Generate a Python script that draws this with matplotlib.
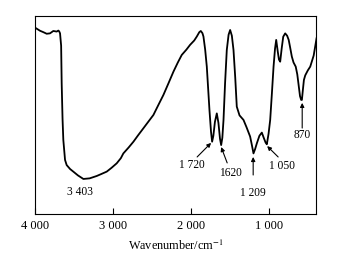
import numpy as np
import matplotlib.pyplot as plt

plt.rcParams['font.family'] = ['Liberation Serif', 'DejaVu Serif']
plt.rcParams['mathtext.fontset'] = 'stix'

# FTIR spectrum (wavenumber in cm-1, transmittance in %)
wavenumber = [4000, 3935, 3893, 3850, 3808, 3765, 3722, 3701, 3690, 3679,
              3665, 3658, 3647, 3637, 3615, 3594, 3550, 3509, 3450, 3380,
              3300, 3209, 3150, 3081, 3020, 2953, 2900, 2868, 2800, 2739,
              2680, 2611, 2550, 2483, 2420, 2355, 2290, 2226, 2170, 2120,
              2060, 2013, 1960, 1927, 1895, 1876, 1855, 1842, 1820, 1799,
              1765, 1745, 1731, 1715, 1695, 1671, 1650, 1630, 1615, 1600,
              1585, 1565, 1543, 1520, 1500, 1478, 1457, 1435, 1415, 1380,
              1329, 1290, 1244, 1220, 1201, 1180, 1158, 1125, 1094, 1070,
              1045, 1030, 1008, 987, 965, 944, 925, 910, 890, 875,
              859, 840, 820, 795, 770, 750, 731, 710, 688, 660,
              640, 624, 605, 590, 581, 570, 555, 538, 505, 474,
              430, 393]
transmittance = [94.1, 92.5, 91.8, 91.0, 91.2, 92.4, 92.1, 92.6, 92.2, 91.2,
                 85.0, 65.9, 48.0, 37.4, 27.3, 24.7, 22.7, 21.4, 19.5, 17.7,
                 18.0, 19.2, 20.2, 21.4, 23.3, 25.6, 28.2, 30.6, 33.6, 36.5,
                 39.7, 43.3, 46.5, 50.0, 55.0, 60.1, 66.0, 71.9, 76.5, 80.3,
                 83.0, 85.4, 87.6, 89.6, 91.8, 92.4, 91.3, 89.6, 83.0, 74.4,
                 52.5, 41.5, 36.5, 39.5, 46.5, 50.8, 46.0, 38.0, 34.8, 38.5,
                 47.5, 66.0, 82.8, 90.5, 92.9, 90.0, 82.8, 69.0, 54.2, 49.8,
                 47.5, 43.8, 39.1, 34.5, 30.6, 32.8, 35.7, 39.5, 41.1, 38.5,
                 36.0, 35.2, 40.5, 47.5, 61.0, 74.4, 83.5, 87.9, 82.0, 78.0,
                 76.9, 83.5, 89.5, 91.2, 90.0, 87.9, 84.0, 79.5, 76.5, 74.4,
                 70.5, 65.5, 59.5, 57.6, 57.6, 62.0, 67.7, 70.0, 72.5, 74.4,
                 80.0, 88.7]

peak_labels = ["3 403", "1 720", "1620", "1 209", "1 050", "870"]
label_x = [3423, 1987, 1500, 1205, 833, 577]
label_y = [11.1, 24.7, 20.7, 10.6, 24.2, 39.9]
arrow_tail = [None, (1923, 28.8), (1538, 25.8), (1205, 19.7), (885, 28.8), (577, 43.4)]
arrow_head = [None, (1744, 35.9), (1615, 33.8), (1205, 28.8), (1026, 34.3), (577, 56.1)]

xticks = [4000, 3000, 2000, 1000]
xtick_labels = ["4 000", "3 000", "2 000", "1 000"]

fig = plt.figure(figsize=(3.39, 2.61), dpi=100)
ax = fig.add_axes([0.1032, 0.180, 0.829, 0.759])

ax.plot(wavenumber, transmittance, color="black", lw=1.3)

for lab, x, y, tail, head in zip(peak_labels, label_x, label_y, arrow_tail, arrow_head):
    ax.text(x, y, lab, ha="center", va="center", fontsize=8.3)
    if tail is not None:
        ax.annotate("", xy=head, xytext=tail,
                    arrowprops=dict(arrowstyle="-|>", color="black", lw=0.8,
                                    mutation_scale=6, shrinkA=0, shrinkB=0))

ax.set_xlim(4000, 400)
ax.set_ylim(0, 100)
ax.set_xticks(xticks)
ax.set_xticklabels(xtick_labels, fontsize=9)
ax.set_yticks([])
ax.tick_params(axis="x", direction="in", length=4, width=0.8, pad=4)
for s in ax.spines.values():
    s.set_linewidth(0.8)
ax.set_xlabel("Wavenumber/cm$^{-1}$", fontsize=8.8, labelpad=5)

fig.savefig("out.png", dpi=100)
